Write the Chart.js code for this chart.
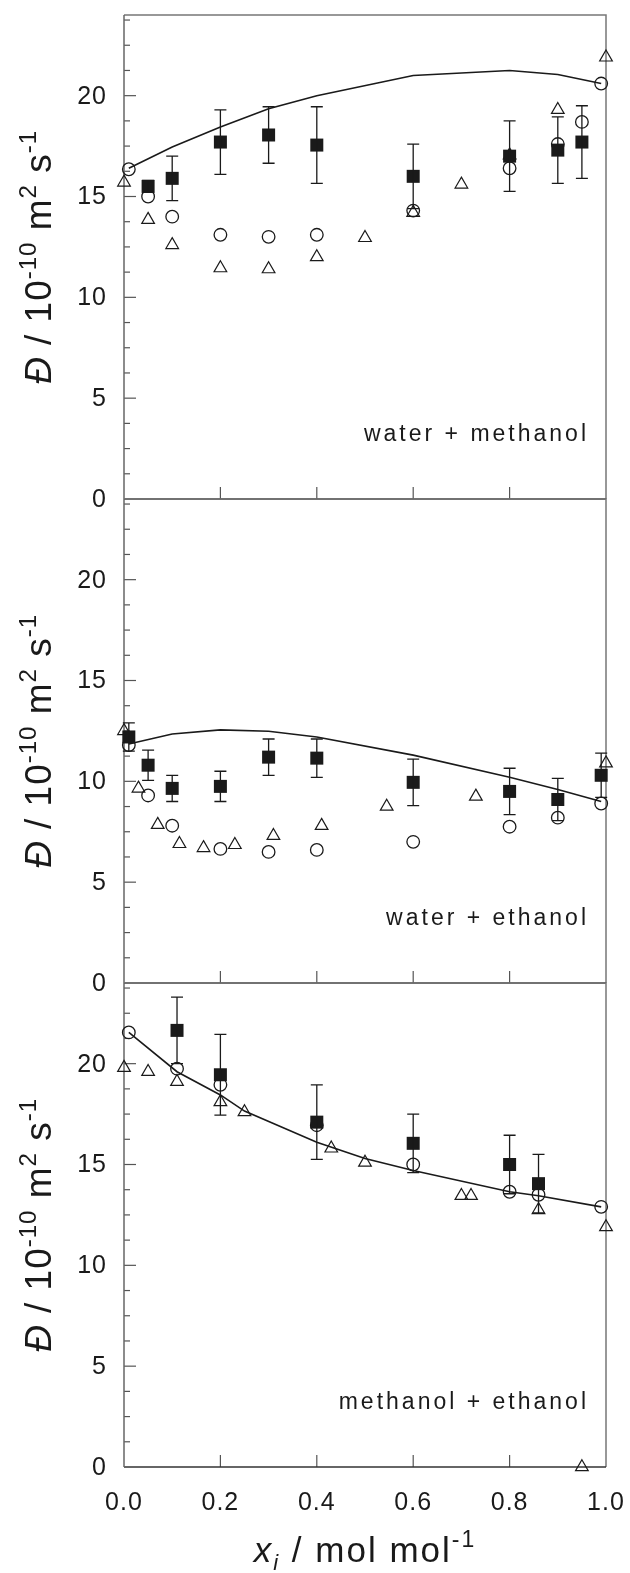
<!DOCTYPE html>
<html>
<head>
<meta charset="utf-8">
<script src="https://cdn.jsdelivr.net/npm/chart.js@4.4.0/dist/chart.umd.min.js"></script>
<style>
    html, body { margin: 0; padding: 0; background: #fff; }
    #wrap { position: relative; width: 630px; height: 1573px; }
</style>
</head>
<body>
<div id="wrap"><canvas id="chart" width="630" height="1573"></canvas></div>
<script>
// axis ticks
const xTickVals = [0, 0.2, 0.4, 0.6, 0.8, 1.0];
const yTickVals = [0, 5, 10, 15, 20];
const panelNames = ["water + methanol", "water + ethanol", "methanol + ethanol"];

// panel 1: water + methanol
const curveX1 = [0.01, 0.1, 0.2, 0.3, 0.4, 0.6, 0.8, 0.9, 0.99];
const curveY1 = [16.4, 17.45, 18.45, 19.35, 20.0, 21.0, 21.25, 21.05, 20.6];
const circX1 = [0.01, 0.05, 0.1, 0.2, 0.3, 0.4, 0.6, 0.8, 0.9, 0.95, 0.99];
const circY1 = [16.35, 15.0, 14.0, 13.1, 13.0, 13.1, 14.3, 16.4, 17.6, 18.7, 20.6];
const triX1 = [0.0, 0.05, 0.1, 0.2, 0.3, 0.4, 0.5, 0.6, 0.7, 0.8, 0.9, 1.0];
const triY1 = [15.7, 13.85, 12.6, 11.45, 11.4, 12.0, 12.95, 14.2, 15.6, 17.05, 19.3, 21.9];
const sqX1 = [0.05, 0.1, 0.2, 0.3, 0.4, 0.6, 0.8, 0.9, 0.95];
const sqY1 = [15.5, 15.9, 17.7, 18.05, 17.55, 16.0, 17.0, 17.3, 17.7];
const sqE1 = [0.3, 1.1, 1.6, 1.4, 1.9, 1.6, 1.75, 1.65, 1.8];

// panel 2: water + ethanol
const curveX2 = [0.01, 0.1, 0.2, 0.3, 0.4, 0.6, 0.8, 0.9, 0.99];
const curveY2 = [11.85, 12.35, 12.55, 12.48, 12.2, 11.3, 10.2, 9.6, 9.0];
const circX2 = [0.01, 0.05, 0.1, 0.2, 0.3, 0.4, 0.6, 0.8, 0.9, 0.99];
const circY2 = [11.8, 9.3, 7.8, 6.65, 6.5, 6.6, 7.0, 7.75, 8.2, 8.9];
const triX2 = [0.0, 0.03, 0.07, 0.115, 0.165, 0.23, 0.31, 0.41, 0.545, 0.73, 1.0];
const triY2 = [12.5, 9.65, 7.85, 6.9, 6.7, 6.85, 7.3, 7.8, 8.75, 9.25, 10.9];
const sqX2 = [0.01, 0.05, 0.1, 0.2, 0.3, 0.4, 0.6, 0.8, 0.9, 0.99];
const sqY2 = [12.2, 10.8, 9.65, 9.75, 11.2, 11.15, 9.95, 9.5, 9.1, 10.3];
const sqE2 = [0.7, 0.75, 0.65, 0.75, 0.9, 0.95, 1.15, 1.15, 1.05, 1.1];

// panel 3: methanol + ethanol
const curveX3 = [0.01, 0.11, 0.2, 0.25, 0.4, 0.5, 0.6, 0.8, 0.86, 0.99];
const curveY3 = [21.55, 19.6, 18.45, 17.65, 16.1, 15.3, 14.7, 13.65, 13.45, 12.9];
const circX3 = [0.01, 0.11, 0.2, 0.4, 0.6, 0.8, 0.86, 0.99];
const circY3 = [21.55, 19.75, 18.95, 16.95, 15.0, 13.65, 13.5, 12.9];
const triX3 = [0.0, 0.05, 0.11, 0.2, 0.25, 0.43, 0.5, 0.7, 0.72, 0.86, 0.95, 1.0];
const triY3 = [19.8, 19.6, 19.1, 18.1, 17.6, 15.8, 15.1, 13.45, 13.45, 12.75, 0.0, 11.9];
const sqX3 = [0.11, 0.2, 0.4, 0.6, 0.8, 0.86];
const sqY3 = [21.65, 19.45, 17.1, 16.05, 15.0, 14.05];
const sqE3 = [1.65, 2.0, 1.85, 1.45, 1.45, 1.45];

const FONT = '"Liberation Sans", Arial, sans-serif';
const INK = "#1a1a1a";

function pts(xs, ys) {
    return xs.map((x, i) => ({ x: x, y: ys[i] }));
}

const panelSets = [
    { axis: "y1", curve: [curveX1, curveY1], circ: [circX1, circY1], tri: [triX1, triY1], sq: [sqX1, sqY1, sqE1] },
    { axis: "y2", curve: [curveX2, curveY2], circ: [circX2, circY2], tri: [triX2, triY2], sq: [sqX2, sqY2, sqE2] },
    { axis: "y3", curve: [curveX3, curveY3], circ: [circX3, circY3], tri: [triX3, triY3], sq: [sqX3, sqY3, sqE3] },
];

const datasets = [];
panelSets.forEach((p) => {
    datasets.push({
        data: pts(p.sq[0], p.sq[1]), errors: p.sq[2], yAxisID: p.axis,
        pointStyle: "rect", pointRadius: 9.2, backgroundColor: INK, borderColor: INK, borderWidth: 0,
    });
    datasets.push({
        data: pts(p.circ[0], p.circ[1]), yAxisID: p.axis,
        pointStyle: "circle", pointRadius: 6.3, backgroundColor: "rgba(0,0,0,0)", borderColor: INK, borderWidth: 1.3,
    });
    datasets.push({
        data: pts(p.tri[0], p.tri[1]), yAxisID: p.axis,
        pointStyle: "triangle", pointRadius: 7.3, backgroundColor: "rgba(0,0,0,0)", borderColor: INK, borderWidth: 1.2,
    });
    datasets.push({
        data: pts(p.curve[0], p.curve[1]), yAxisID: p.axis,
        showLine: true, pointRadius: 0, borderColor: INK, borderWidth: 1.6, tension: 0,
    });
});

function drawParts(ctx, parts, start) {
    let pos = start;
    parts.forEach((p) => {
        ctx.font = p.f;
        ctx.fillText(p.t, pos, p.dy);
        pos += ctx.measureText(p.t).width;
    });
}

function partsWidth(ctx, parts) {
    let w = 0;
    parts.forEach((p) => {
        ctx.font = p.f;
        w += ctx.measureText(p.t).width;
    });
    return w;
}

const panelPlugin = {
    id: "panels",
    beforeDatasetsDraw(chart) {
        const ctx = chart.ctx;
        const xs = chart.scales.x;
        const a = chart.chartArea;
        ctx.save();
        panelSets.forEach((p) => {
            const s = chart.scales[p.axis];
            const top = s.getPixelForValue(24);
            const bot = s.getPixelForValue(0);
            // left ticks, inward
            ctx.strokeStyle = "#555";
            ctx.lineWidth = 1.2;
            for (let v = 1.25; v < 24; v += 1.25) {
                const py = s.getPixelForValue(v);
                const len = v % 5 === 0 ? 12 : 6;
                ctx.beginPath();
                ctx.moveTo(a.left, py);
                ctx.lineTo(a.left + len, py);
                ctx.stroke();
            }
            // bottom ticks
            xTickVals.slice(1, -1).forEach((v) => {
                const px = xs.getPixelForValue(v);
                ctx.beginPath();
                ctx.moveTo(px, bot);
                ctx.lineTo(px, bot - 12);
                ctx.stroke();
            });
            // frame
            ctx.strokeStyle = "#777";
            ctx.lineWidth = 1.5;
            ctx.beginPath();
            ctx.moveTo(a.left, top);
            ctx.lineTo(a.right, top);
            ctx.lineTo(a.right, bot);
            ctx.stroke();
            ctx.strokeStyle = "#333";
            ctx.beginPath();
            ctx.moveTo(a.left, bot);
            ctx.lineTo(a.right, bot);
            ctx.stroke();
            ctx.strokeStyle = "#666";
            ctx.beginPath();
            ctx.moveTo(a.left, top);
            ctx.lineTo(a.left, bot);
            ctx.stroke();
        });
        ctx.restore();
    },
    afterDatasetsDraw(chart) {
        // error bars of the filled squares
        const ctx = chart.ctx;
        const xs = chart.scales.x;
        ctx.save();
        ctx.strokeStyle = INK;
        ctx.lineWidth = 1.3;
        chart.data.datasets.forEach((ds) => {
            if (!ds.errors) return;
            const s = chart.scales[ds.yAxisID];
            ds.data.forEach((d, i) => {
                const px = xs.getPixelForValue(d.x);
                const y1 = s.getPixelForValue(d.y + ds.errors[i]);
                const y2 = s.getPixelForValue(d.y - ds.errors[i]);
                ctx.beginPath();
                ctx.moveTo(px, y1);
                ctx.lineTo(px, y2);
                ctx.moveTo(px - 6, y1);
                ctx.lineTo(px + 6, y1);
                ctx.moveTo(px - 6, y2);
                ctx.lineTo(px + 6, y2);
                ctx.stroke();
            });
        });
        ctx.restore();
    },
    afterDraw(chart) {
        const ctx = chart.ctx;
        const xs = chart.scales.x;
        const a = chart.chartArea;
        ctx.save();
        ctx.fillStyle = INK;
        ctx.textBaseline = "middle";

        panelSets.forEach((p, k) => {
            const s = chart.scales[p.axis];
            const bot = s.getPixelForValue(0);
            const mid = (s.getPixelForValue(24) + bot) / 2;

            // y tick labels
            ctx.font = "25px " + FONT;
            ctx.textAlign = "right";
            ctx.letterSpacing = "1px";
            yTickVals.forEach((v) => {
                ctx.fillText(String(v), 107, s.getPixelForValue(v) + 1);
            });

            // panel name
            ctx.font = "23px " + FONT;
            ctx.letterSpacing = "3px";
            ctx.fillText(panelNames[k], 589, bot - 64);

            // y axis title
            const main = "37px " + FONT;
            const sup = "24px " + FONT;
            const parts = [
                { t: "Đ", f: "italic " + main, dy: 0 },
                { t: " / 10", f: main, dy: 0 },
                { t: "-10", f: sup, dy: -15 },
                { t: " m", f: main, dy: 0 },
                { t: "2", f: sup, dy: -15 },
                { t: " s", f: main, dy: 0 },
                { t: "-1", f: sup, dy: -15 },
            ];
            ctx.save();
            ctx.textAlign = "left";
            ctx.textBaseline = "alphabetic";
            ctx.letterSpacing = "1px";
            ctx.translate(51, mid);
            ctx.rotate(-Math.PI / 2);
            drawParts(ctx, parts, -partsWidth(ctx, parts) / 2);
            ctx.restore();
        });

        // x tick labels
        ctx.font = "25px " + FONT;
        ctx.textAlign = "center";
        ctx.letterSpacing = "1px";
        xTickVals.forEach((v) => {
            ctx.fillText(v.toFixed(1), xs.getPixelForValue(v), 1503);
        });

        // x axis title
        const xparts = [
            { t: "x", f: "italic 35px " + FONT, dy: 0 },
            { t: "i", f: "italic 22px " + FONT, dy: 8 },
            { t: " / mol mol", f: "35px " + FONT, dy: 0 },
            { t: "-1", f: "23px " + FONT, dy: -15 },
        ];
        ctx.textAlign = "left";
        ctx.textBaseline = "alphabetic";
        ctx.letterSpacing = "2px";
        ctx.translate(0, 1562);
        drawParts(ctx, xparts, (a.left + a.right) / 2 - partsWidth(ctx, xparts) / 2);
        ctx.restore();
    },
};

new Chart(document.getElementById("chart").getContext("2d"), {
    type: "scatter",
    data: { datasets: datasets },
    options: {
        responsive: false,
        animation: false,
        events: [],
        clip: false,
        layout: { padding: { left: 124, right: 24, top: 15, bottom: 106 } },
        scales: {
            x: { type: "linear", min: 0, max: 1, display: false },
            y1: { type: "linear", min: -48, max: 24, display: false },
            y2: { type: "linear", min: -24, max: 48, display: false },
            y3: { type: "linear", min: 0, max: 72, display: false },
        },
        plugins: { legend: { display: false }, tooltip: { enabled: false } },
    },
    plugins: [panelPlugin],
});
</script>
</body>
</html>
